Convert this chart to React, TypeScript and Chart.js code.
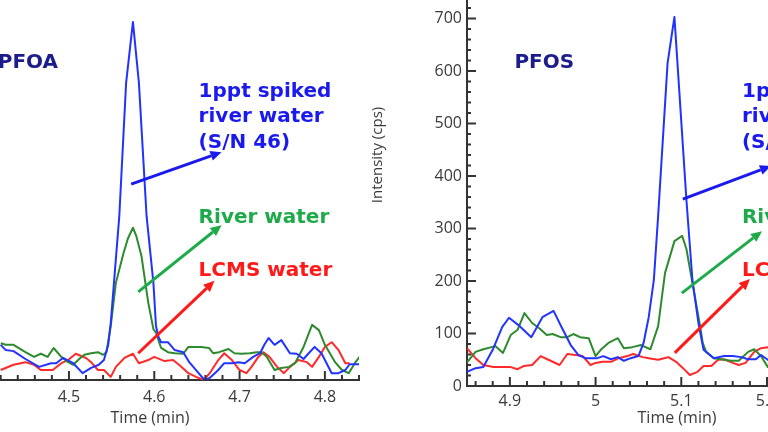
import React, { useEffect, useRef } from "react";
import Chart from "chart.js/auto";

// ---------------- PFOA panel (left) ----------------
const PFOA_SPIKED_T = [4.420, 4.426, 4.435, 4.449, 4.465, 4.479, 4.485, 4.493, 4.505, 4.516, 4.526, 4.535, 4.541, 4.546, 4.549, 4.559, 4.567, 4.575, 4.582, 4.591, 4.599, 4.602, 4.605, 4.608, 4.616, 4.624, 4.634, 4.641, 4.652, 4.659, 4.665, 4.675, 4.682, 4.691, 4.699, 4.706, 4.716, 4.724, 4.729, 4.734, 4.741, 4.749, 4.759, 4.767, 4.775, 4.781, 4.788, 4.796, 4.802, 4.808, 4.816, 4.824, 4.829, 4.841];
const PFOA_SPIKED_V = [67, 57, 55, 40, 25, 32, 32, 42, 32, 13, 23, 29, 38, 67, 109, 312, 566, 682, 566, 312, 185, 103, 82, 72, 72, 57, 53, 34, 13, 0, 4, 19, 32, 32, 34, 32, 44, 51, 67, 80, 67, 76, 51, 50, 40, 51, 63, 51, 32, 13, 13, 19, 30, 30];

const PFOA_RIVER_T = [4.420, 4.426, 4.435, 4.449, 4.459, 4.467, 4.475, 4.482, 4.491, 4.499, 4.505, 4.512, 4.518, 4.526, 4.534, 4.540, 4.544, 4.549, 4.555, 4.564, 4.569, 4.575, 4.579, 4.585, 4.593, 4.599, 4.602, 4.608, 4.616, 4.624, 4.634, 4.640, 4.655, 4.664, 4.669, 4.676, 4.687, 4.694, 4.702, 4.712, 4.720, 4.726, 4.732, 4.741, 4.749, 4.758, 4.765, 4.775, 4.785, 4.793, 4.800, 4.812, 4.820, 4.828, 4.835, 4.844];
const PFOA_RIVER_V = [70, 67, 67, 53, 44, 50, 44, 61, 44, 34, 29, 40, 48, 51, 53, 48, 53, 103, 185, 242, 269, 290, 274, 236, 147, 97, 90, 61, 53, 51, 50, 63, 63, 61, 51, 53, 59, 51, 50, 51, 53, 53, 44, 19, 23, 25, 32, 63, 105, 95, 67, 34, 19, 13, 32, 51];

const PFOA_LCMS_T = [4.420, 4.435, 4.449, 4.459, 4.467, 4.481, 4.491, 4.499, 4.508, 4.520, 4.526, 4.534, 4.541, 4.549, 4.555, 4.565, 4.575, 4.582, 4.593, 4.600, 4.612, 4.622, 4.629, 4.640, 4.649, 4.658, 4.665, 4.675, 4.682, 4.691, 4.700, 4.708, 4.714, 4.722, 4.728, 4.735, 4.744, 4.752, 4.759, 4.769, 4.779, 4.785, 4.793, 4.800, 4.808, 4.816, 4.824, 4.829];
const PFOA_LCMS_V = [19, 29, 34, 29, 19, 19, 32, 38, 50, 42, 34, 19, 19, 6, 25, 42, 50, 32, 38, 44, 36, 38, 29, 13, 6, 0, 13, 38, 51, 38, 19, 13, 25, 44, 53, 44, 25, 13, 25, 38, 34, 25, 44, 63, 72, 57, 32, 32];

// ---------------- PFOS panel (right) ----------------
const PFOS_SPIKED_T = [4.850, 4.860, 4.869, 4.880, 4.891, 4.899, 4.910, 4.925, 4.938, 4.951, 4.961, 4.971, 4.980, 4.988, 5.002, 5.009, 5.018, 5.026, 5.033, 5.041, 5.050, 5.056, 5.062, 5.068, 5.073, 5.084, 5.092, 5.106, 5.113, 5.120, 5.126, 5.138, 5.150, 5.160, 5.170, 5.178, 5.187, 5.193, 5.201, 5.210];
const PFOS_SPIKED_V = [27, 34, 36, 69, 112, 130, 116, 93, 131, 143, 110, 78, 59, 53, 53, 57, 51, 55, 48, 53, 57, 82, 131, 202, 324, 615, 703, 354, 202, 120, 69, 53, 57, 57, 55, 51, 51, 59, 50, 42];

const PFOS_RIVER_T = [4.850, 4.860, 4.869, 4.883, 4.892, 4.901, 4.909, 4.917, 4.926, 4.935, 4.943, 4.950, 4.959, 4.967, 4.974, 4.982, 4.992, 5.000, 5.006, 5.015, 5.026, 5.033, 5.043, 5.053, 5.064, 5.073, 5.081, 5.092, 5.101, 5.106, 5.113, 5.122, 5.125, 5.129, 5.138, 5.150, 5.158, 5.167, 5.178, 5.185, 5.193, 5.201, 5.210];
const PFOS_RIVER_V = [45, 65, 70, 76, 63, 97, 107, 139, 120, 109, 97, 99, 93, 93, 99, 93, 91, 57, 69, 82, 91, 72, 74, 78, 70, 114, 215, 276, 286, 261, 196, 114, 82, 65, 53, 50, 48, 48, 65, 70, 57, 36, 30];

const PFOS_LCMS_T = [4.850, 4.860, 4.869, 4.881, 4.892, 4.901, 4.909, 4.916, 4.926, 4.936, 4.945, 4.958, 4.967, 4.977, 4.985, 4.994, 5.000, 5.008, 5.018, 5.027, 5.037, 5.044, 5.055, 5.062, 5.073, 5.080, 5.085, 5.094, 5.102, 5.110, 5.119, 5.126, 5.135, 5.143, 5.150, 5.160, 5.167, 5.175, 5.185, 5.193, 5.201, 5.210];
const PFOS_LCMS_V = [72, 53, 40, 36, 36, 36, 32, 38, 40, 57, 50, 40, 61, 59, 57, 40, 44, 46, 46, 53, 57, 61, 55, 53, 50, 53, 55, 46, 34, 21, 27, 38, 38, 50, 51, 44, 40, 44, 65, 72, 74, 72];

// ---------------- axes ----------------
const PFOA_X_RANGE = [4.35, 4.84];
const PFOS_X_RANGE = [4.85, 5.34];
const Y_RANGE = [0, 880];
const X_MAJOR_STEP = 0.1;
const X_MINOR_STEP = 0.02;
const Y_MAJOR_STEP = 100;
const Y_MINOR_STEP = 20;
const X_TITLE = "Time (min)";
const Y_TITLE = "Intensity (cps)";

// ---------------- styles ----------------
const BLUE_LINE = "#2233ff";
const GREEN_LINE = "#2e8a2e";
const RED_LINE = "#ff2a2a";
const BLUE_TEXT = "#1a1aee";
const GREEN_TEXT = "#1faa4a";
const RED_TEXT = "#ff1a1a";
const NAVY_TEXT = "#1c1c8c";
const AXIS = "#333333";
const TICK_TEXT = "#3a3a3a";
const NOTE_FONT = "bold 20px 'DejaVu Sans', sans-serif";

type Note = { text: string; t: number; v: number; color: string };
type Arrow = { t1: number; v1: number; t2: number; v2: number; color: string };

const PFOA_NOTES: Note[] = [
  { text: "PFOA", t: 4.4165, v: 594, color: NAVY_TEXT },
  { text: "1ppt spiked", t: 4.652, v: 539, color: BLUE_TEXT },
  { text: "river water", t: 4.652, v: 491, color: BLUE_TEXT },
  { text: "(S/N 46)", t: 4.652, v: 442, color: BLUE_TEXT },
  { text: "River water", t: 4.652, v: 299, color: GREEN_TEXT },
  { text: "LCMS water", t: 4.652, v: 198, color: RED_TEXT },
];
const PFOA_ARROWS: Arrow[] = [
  { t1: 4.5729, v1: 373, t2: 4.6788, v2: 434, color: BLUE_TEXT },
  { t1: 4.5812, v1: 168, t2: 4.6788, v2: 295, color: GREEN_TEXT },
  { t1: 4.5812, v1: 51, t2: 4.6706, v2: 189, color: RED_TEXT },
];
const PFOS_NOTES: Note[] = [
  { text: "PFOS", t: 4.9053, v: 606, color: NAVY_TEXT },
  { text: "1ppt spiked", t: 5.1708, v: 550, color: BLUE_TEXT },
  { text: "river water", t: 5.1708, v: 503, color: BLUE_TEXT },
  { text: "(S/N 46)", t: 5.1708, v: 453, color: BLUE_TEXT },
  { text: "River water", t: 5.1708, v: 310, color: GREEN_TEXT },
  { text: "LCMS water", t: 5.1708, v: 210, color: RED_TEXT },
];
const PFOS_ARROWS: Arrow[] = [
  { t1: 5.1018, v1: 356, t2: 5.2047, v2: 419, color: BLUE_TEXT },
  { t1: 5.1006, v1: 177, t2: 5.1942, v2: 295, color: GREEN_TEXT },
  { t1: 5.0924, v1: 63, t2: 5.1801, v2: 204, color: RED_TEXT },
];

const isMultiple = (v: number, step: number) => Math.abs(v / step - Math.round(v / step)) < 1e-6;

// tick positions of an axis (every minor step inside the range)
function tickValues(min: number, max: number, step: number): number[] {
  const out: number[] = [];
  const first = Math.ceil(min / step - 1e-9);
  const last = Math.floor(max / step + 1e-9);
  for (let k = first; k <= last; k++) out.push(Number((k * step).toFixed(4)));
  return out;
}

function drawSegment(ctx: any, x1: number, y1: number, x2: number, y2: number, color: string, width: number) {
  ctx.strokeStyle = color;
  ctx.lineWidth = width;
  ctx.beginPath();
  ctx.moveTo(x1, y1);
  ctx.lineTo(x2, y2);
  ctx.stroke();
}

function overlayPlugin(notes: Note[], arrows: Arrow[], showY: boolean, xTicks: number[], yTicks: number[]) {
  return {
    id: "overlay",
    afterDraw(chart: any) {
      const ctx = chart.ctx;
      const xs = chart.scales.x;
      const ys = chart.scales.y;
      ctx.save();
      // arrows
      for (const a of arrows) {
        const x1 = xs.getPixelForValue(a.t1);
        const y1 = ys.getPixelForValue(a.v1);
        const x2 = xs.getPixelForValue(a.t2);
        const y2 = ys.getPixelForValue(a.v2);
        const ang = Math.atan2(y2 - y1, x2 - x1);
        const head = 11;
        const half = 5;
        const bx = x2 - head * Math.cos(ang);
        const by = y2 - head * Math.sin(ang);
        drawSegment(ctx, x1, y1, bx, by, a.color, 3);
        ctx.fillStyle = a.color;
        ctx.beginPath();
        ctx.moveTo(x2, y2);
        ctx.lineTo(bx + half * Math.sin(ang), by - half * Math.cos(ang));
        ctx.lineTo(bx - half * Math.sin(ang), by + half * Math.cos(ang));
        ctx.closePath();
        ctx.fill();
      }
      // tick marks pointing into the plot
      const baseY = ys.getPixelForValue(Y_RANGE[0]);
      for (let i = 0; i < xTicks.length; i++) {
        const val = xTicks[i];
        const px = xs.getPixelForValue(val);
        const len = isMultiple(val, X_MAJOR_STEP) ? 9 : 5;
        drawSegment(ctx, px, baseY, px, baseY - len, AXIS, 2);
      }
      if (showY) {
        const baseX = xs.getPixelForValue(xs.min);
        for (let i = 0; i < yTicks.length; i++) {
          const val = yTicks[i];
          const py = ys.getPixelForValue(val);
          const len = isMultiple(val, Y_MAJOR_STEP) ? 9 : 4;
          drawSegment(ctx, baseX, py, baseX + len, py, AXIS, 2);
        }
      }
      // texts
      ctx.font = NOTE_FONT;
      ctx.textAlign = "left";
      ctx.textBaseline = "alphabetic";
      for (const n of notes) {
        ctx.fillStyle = n.color;
        ctx.fillText(n.text, xs.getPixelForValue(n.t), ys.getPixelForValue(n.v));
      }
      ctx.restore();
    },
  };
}

type Panel = {
  series: { name: string; t: number[]; v: number[]; color: string }[];
  xRange: number[];
  showY: boolean;
  padRight: number;
  xTickPad: number;
  xTitlePad: number;
  notes: Note[];
  arrows: Arrow[];
};

const LABEL_FONT = { family: "'Open Sans', sans-serif", size: 16 };

function buildConfig(p: Panel): any {
  const yScale: any = {
    type: "linear",
    display: p.showY,
    min: Y_RANGE[0],
    max: Y_RANGE[1],
    border: { display: true, color: AXIS, width: 2 },
    grid: { drawOnChartArea: false, drawTicks: false },
    ticks: {
      stepSize: Y_MAJOR_STEP,
      includeBounds: false,
      padding: 5,
      color: TICK_TEXT,
      font: LABEL_FONT,
      callback: (v: number) => String(Math.round(v)),
    },
    title: {
      display: true,
      text: Y_TITLE,
      color: TICK_TEXT,
      font: { family: "'Open Sans', sans-serif", size: 15 },
      padding: { top: 2, bottom: 0 },
    },
  };
  if (p.showY) {
    yScale.afterFit = (s: any) => {
      s.width = 100;
      s.paddingTop = 0;
      s.paddingBottom = 0;
    };
  }
  return {
    type: "line",
    data: {
      datasets: p.series.map((s) => ({
        label: s.name,
        data: s.t.map((t, i) => ({ x: t, y: s.v[i] })),
        borderColor: s.color,
        backgroundColor: s.color,
        borderWidth: 2,
        borderJoinStyle: "round",
        pointRadius: 0,
        tension: 0,
        fill: false,
      })),
    },
    options: {
      responsive: false,
      animation: false,
      devicePixelRatio: 1,
      events: [],
      layout: { padding: { left: 0, top: 0, bottom: 0, right: p.padRight } },
      plugins: { legend: { display: false }, tooltip: { enabled: false }, title: { display: false } },
      scales: {
        x: {
          type: "linear",
          position: "bottom",
          min: p.xRange[0],
          max: p.xRange[1],
          afterFit: (s: any) => {
            s.height = 50;
            s.paddingLeft = 0;
            s.paddingRight = 0;
          },
          border: { display: true, color: AXIS, width: 2 },
          grid: { drawOnChartArea: false, drawTicks: false },
          ticks: {
            stepSize: X_MAJOR_STEP,
            autoSkip: false,
            includeBounds: false,
            maxRotation: 0,
            minRotation: 0,
            padding: p.xTickPad,
            color: TICK_TEXT,
            font: LABEL_FONT,
            callback: (v: number) => String(Number(v.toFixed(1))),
          },
          title: {
            display: true,
            text: X_TITLE,
            color: TICK_TEXT,
            font: LABEL_FONT,
            padding: { top: 0, bottom: p.xTitlePad },
          },
        },
        y: yScale,
      },
    },
    plugins: [
      overlayPlugin(
        p.notes,
        p.arrows,
        p.showY,
        tickValues(p.xRange[0], p.xRange[1], X_MINOR_STEP),
        tickValues(Y_RANGE[0], Y_RANGE[1], Y_MINOR_STEP)
      ),
    ],
  };
}

const SERIES_NAMES = ["1ppt spiked river water", "River water", "LCMS water"];

const PFOA_PANEL: Panel = {
  series: [
    { name: SERIES_NAMES[0], t: PFOA_SPIKED_T, v: PFOA_SPIKED_V, color: BLUE_LINE },
    { name: SERIES_NAMES[1], t: PFOA_RIVER_T, v: PFOA_RIVER_V, color: GREEN_LINE },
    { name: SERIES_NAMES[2], t: PFOA_LCMS_T, v: PFOA_LCMS_V, color: RED_LINE },
  ],
  xRange: PFOA_X_RANGE,
  showY: false,
  padRight: 25,
  xTickPad: 8,
  xTitlePad: 2,
  notes: PFOA_NOTES,
  arrows: PFOA_ARROWS,
};

const PFOS_PANEL: Panel = {
  series: [
    { name: SERIES_NAMES[0], t: PFOS_SPIKED_T, v: PFOS_SPIKED_V, color: BLUE_LINE },
    { name: SERIES_NAMES[1], t: PFOS_RIVER_T, v: PFOS_RIVER_V, color: GREEN_LINE },
    { name: SERIES_NAMES[2], t: PFOS_LCMS_T, v: PFOS_LCMS_V, color: RED_LINE },
  ],
  xRange: PFOS_X_RANGE,
  showY: true,
  padRight: 0,
  xTickPad: 6,
  xTitlePad: 8,
  notes: PFOS_NOTES,
  arrows: PFOS_ARROWS,
};

export default function App() {
  const leftRef = useRef<HTMLCanvasElement>(null);
  const rightRef = useRef<HTMLCanvasElement>(null);
  useEffect(() => {
    const charts = [
      new Chart(leftRef.current as HTMLCanvasElement, buildConfig(PFOA_PANEL)),
      new Chart(rightRef.current as HTMLCanvasElement, buildConfig(PFOS_PANEL)),
    ];
    return () => charts.forEach((c) => c.destroy());
  }, []);
  return (
    <div
      style={{
        position: "absolute",
        left: 0,
        top: 0,
        width: 768,
        height: 432,
        overflow: "hidden",
        background: "#ffffff",
      }}
    >
      <canvas ref={leftRef} width={443} height={512} style={{ position: "absolute", left: -59, top: -82 }} />
      <canvas ref={rightRef} width={520} height={512} style={{ position: "absolute", left: 367, top: -76 }} />
    </div>
  );
}
